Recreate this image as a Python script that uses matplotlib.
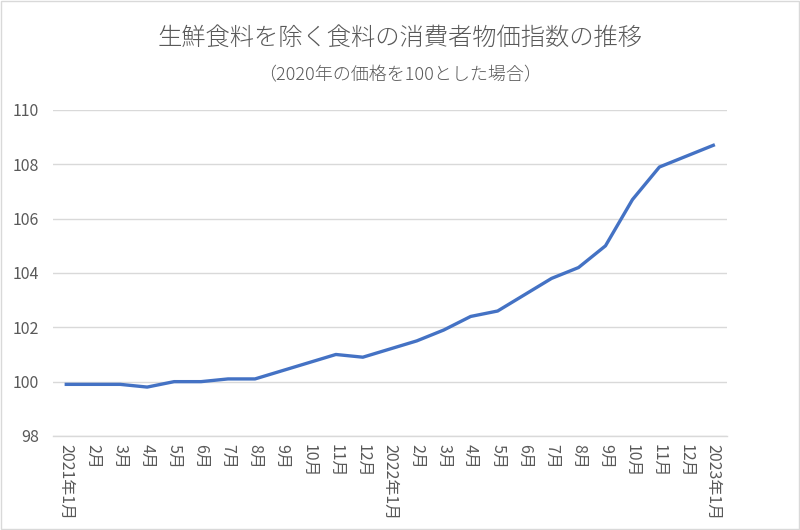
import matplotlib
matplotlib.use("Agg")
import matplotlib.pyplot as plt
from matplotlib.patches import Rectangle

plt.rcParams['font.family'] = ['Noto Sans CJK JP', 'DejaVu Sans']

# 月ラベル
labels = ["2021年1月", "2月", "3月", "4月", "5月", "6月", "7月", "8月", "9月",
          "10月", "11月", "12月",
          "2022年1月", "2月", "3月", "4月", "5月", "6月", "7月", "8月", "9月",
          "10月", "11月", "12月",
          "2023年1月"]
# 消費者物価指数（生鮮食料を除く食料）
values = [99.9, 99.9, 99.9, 99.8, 100.0, 100.0, 100.1, 100.1, 100.4, 100.7, 101.0, 100.9,
          101.2, 101.5, 101.9, 102.4, 102.6, 103.2, 103.8, 104.2, 105.0, 106.7, 107.9, 108.3,
          108.7]
y_ticks = [98, 100, 102, 104, 106, 108, 110]

title = "生鮮食料を除く食料の消費者物価指数の推移"
subtitle = "（2020年の価格を100とした場合）"

text_gray = "#595959"
grid_gray = "#d9d9d9"

fig = plt.figure(figsize=(8, 5.3), dpi=100)
ax = fig.add_axes([0.066, 0.1774, 0.8425, 0.6151])

x = list(range(len(values)))
ax.plot(x, values, color="#4472C4", linewidth=2.4, solid_joinstyle="round", zorder=3)

ax.set_xlim(-0.5, len(values) - 0.5)
ax.set_ylim(98, 110)
ax.set_yticks(y_ticks)
ax.set_yticklabels([str(v) for v in y_ticks], color=text_gray, fontsize=11.5)
ax.set_xticks(x)
ax.set_xticklabels(labels, rotation=-90, color=text_gray, fontsize=11.5,
                   va="top", ha="center", linespacing=1.0)

ax.grid(axis="y", color=grid_gray, linewidth=1)
ax.set_axisbelow(True)
for side in ["top", "right", "left"]:
    ax.spines[side].set_visible(False)
ax.spines["bottom"].set_color(grid_gray)
ax.spines["bottom"].set_linewidth(1)
ax.tick_params(axis="y", length=0, pad=10)
ax.tick_params(axis="x", length=0, pad=6)

fig.text(0.5, 0.928, title, ha="center", va="center", fontsize=17.5,
         color=text_gray, fontweight="light")
fig.text(0.5, 0.858, subtitle, ha="center", va="center", fontsize=13,
         color=text_gray, fontweight="light")

# チャートの枠線
fig.patches.append(Rectangle((0.001, 0.001), 0.998, 0.998, transform=fig.transFigure,
                             fill=False, edgecolor=grid_gray, linewidth=1))

fig.savefig("out.png", dpi=100)
